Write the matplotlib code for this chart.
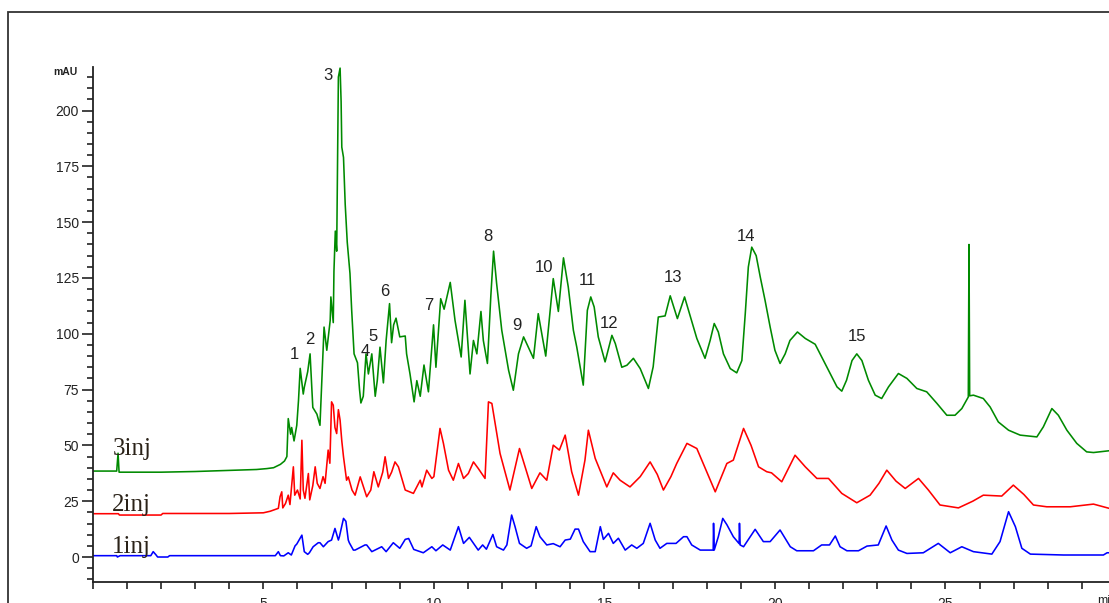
#!/usr/bin/env python
# -*- coding: utf-8 -*-

"""
Superposition de trois chromatogrammes HPLC (1, 2 et 3 injections).

Les traces sont décalées verticalement et les pics principaux sont numérotés.
"""

import matplotlib.pyplot as plt
from matplotlib.patches import Rectangle
from matplotlib.ticker import MultipleLocator

# Trace 3inj (verte) : temps en min, signal en mAU
temps_3inj = [0.0, 0.70, 0.74, 0.77, 2.0, 3.0, 4.0, 4.8, 5.1, 5.3, 5.5, 5.62, 5.69, 5.73,
              5.8, 5.83, 5.9, 5.98, 6.03, 6.08, 6.17, 6.2, 6.3, 6.37, 6.45, 6.57, 6.66,
              6.74, 6.78, 6.86, 6.96, 6.98, 7.05, 7.07, 7.11, 7.15, 7.2, 7.25, 7.28, 7.3,
              7.35, 7.4, 7.46, 7.54, 7.59, 7.66, 7.76, 7.82, 7.86, 7.93, 8.01, 8.08, 8.18,
              8.28, 8.34, 8.42, 8.52, 8.6, 8.7, 8.76, 8.82, 8.89, 9.0, 9.16, 9.2, 9.3,
              9.42, 9.5, 9.6, 9.71, 9.84, 9.99, 10.06, 10.2, 10.3, 10.48, 10.62, 10.8,
              10.91, 11.06, 11.16, 11.26, 11.38, 11.45, 11.57, 11.67, 11.75, 11.84,
              11.99, 12.19, 12.33, 12.48, 12.63, 12.92, 13.06, 13.28, 13.5, 13.65, 13.8,
              13.94, 14.09, 14.19, 14.38, 14.45, 14.5, 14.6, 14.7, 14.82, 15.02, 15.12,
              15.22, 15.32, 15.51, 15.66, 15.85, 16.05, 16.29, 16.43, 16.58, 16.78,
              16.93, 17.14, 17.35, 17.51, 17.71, 17.95, 18.1, 18.22, 18.34, 18.49, 18.69,
              18.88, 19.03, 19.13, 19.22, 19.32, 19.45, 19.57, 19.71, 19.86, 20.0, 20.15,
              20.3, 20.44, 20.66, 20.89, 21.18, 21.37, 21.62, 21.82, 21.96, 22.1, 22.26,
              22.4, 22.55, 22.74, 22.94, 23.13, 23.33, 23.62, 23.87, 24.16, 24.45, 24.75,
              25.04, 25.28, 25.48, 25.67, 25.69, 25.71, 25.82, 26.11, 26.31, 26.55, 26.85,
              27.19, 27.68, 27.87, 28.12, 28.31, 28.56, 28.85, 29.14, 29.34, 29.8]
mau_3inj = [38.5, 38.5, 46.5, 38.0, 38.0, 38.3, 38.8, 39.2, 39.6, 40.0, 41.5, 43.0, 45.0, 62.0,
            55.0, 58.0, 52.0, 59.0, 70.0, 84.5, 73.0, 76.0, 83.0, 91.0, 67.0, 64.0, 59.0,
            88.0, 103.0, 92.6, 106.0, 116.5, 105.0, 128.0, 146.0, 137.0, 215.0, 219.0, 204.0,
            183.6, 179.0, 158.0, 141.0, 127.0, 110.5, 91.0, 87.0, 75.0, 69.0, 72.0, 91.0,
            82.0, 91.0, 72.0, 79.0, 94.0, 78.0, 97.0, 113.5, 96.0, 104.0, 107.0, 98.6, 99.0,
            91.0, 82.0, 69.5, 79.0, 72.0, 86.0, 74.0, 104.0, 85.0, 115.7, 111.0, 123.0,
            106.0, 89.6, 115.0, 82.0, 97.0, 91.0, 110.0, 97.0, 86.7, 117.0, 137.0, 122.5,
            101.6, 83.7, 74.7, 91.0, 98.6, 89.0, 109.0, 90.0, 124.7, 110.0, 134.0, 121.0,
            101.6, 94.0, 77.0, 97.0, 110.5, 116.5, 112.0, 98.6, 87.4, 93.4, 99.3, 95.6, 85.0,
            85.9, 89.0, 84.4, 75.5, 85.2, 107.5, 108.0, 117.0, 106.8, 116.5, 108.3, 97.9,
            89.0, 97.0, 104.6, 100.8, 91.0, 84.4, 82.5, 88.0, 109.0, 129.9, 138.8, 135.0,
            125.4, 115.0, 103.0, 92.6, 86.7, 91.0, 97.0, 100.8, 97.9, 95.3, 89.6, 82.2, 76.2,
            74.3, 79.2, 88.0, 91.0, 88.0, 79.2, 72.5, 71.0, 76.2, 82.2, 80.0, 75.5, 74.0,
            68.8, 63.5, 63.5, 66.5, 71.7, 140.0, 72.2, 72.5, 71.0, 67.2, 60.5, 56.8, 54.6,
            53.8, 58.3, 66.5, 63.5, 56.8, 50.9, 47.1, 46.8, 47.6]

# Trace 2inj (rouge)
temps_2inj = [0.0, 0.75, 0.78, 2.0, 2.05, 4.0, 5.0, 5.2, 5.44, 5.49, 5.54, 5.57, 5.65, 5.73,
              5.78, 5.88, 5.92, 6.0, 6.08, 6.13, 6.17, 6.22, 6.28, 6.32, 6.36, 6.45, 6.52,
              6.58, 6.66, 6.75, 6.81, 6.9, 6.95, 7.0, 7.05, 7.1, 7.15, 7.2, 7.25, 7.3, 7.35,
              7.44, 7.49, 7.6, 7.69, 7.84, 8.03, 8.15, 8.24, 8.37, 8.5, 8.57, 8.67, 8.76,
              8.86, 8.96, 9.16, 9.4, 9.6, 9.65, 9.79, 9.94, 10.0, 10.18, 10.28, 10.43,
              10.57, 10.72, 10.87, 11.01, 11.16, 11.3, 11.5, 11.6, 11.7, 11.94, 12.23,
              12.51, 12.87, 13.11, 13.31, 13.5, 13.68, 13.85, 14.04, 14.24, 14.43, 14.53,
              14.73, 15.07, 15.26, 15.46, 15.75, 16.05, 16.34, 16.55, 16.73, 16.95, 17.12,
              17.42, 17.71, 17.95, 18.25, 18.59, 18.78, 19.08, 19.3, 19.52, 19.76, 19.9,
              20.2, 20.59, 20.89, 21.23, 21.57, 21.96, 22.4, 22.79, 23.05, 23.28, 23.55,
              23.82, 24.21, 24.5, 24.84, 25.38, 25.8, 26.11, 26.65, 26.99, 27.3, 27.58,
              27.97, 28.66, 29.34, 29.8]
mau_2inj = [19.4, 19.4, 18.8, 18.8, 19.5, 19.5, 19.8, 20.5, 21.8, 27.0, 29.2, 22.0, 24.0, 27.7,
            23.5, 40.4, 27.7, 30.0, 26.0, 52.3, 30.0, 26.3, 33.0, 37.4, 25.6, 32.0, 40.4,
            33.0, 30.7, 36.0, 33.0, 47.9, 42.0, 69.5, 68.0, 58.0, 55.3, 66.0, 61.3, 52.0,
            44.9, 34.4, 35.9, 30.0, 27.7, 35.9, 27.0, 30.0, 38.2, 31.4, 38.0, 44.9, 35.2,
            38.0, 42.6, 40.4, 30.0, 28.5, 34.4, 31.4, 38.9, 35.2, 36.0, 57.6, 50.9, 38.9,
            34.4, 41.9, 35.2, 37.4, 42.6, 39.7, 35.2, 69.5, 68.8, 46.4, 30.0, 48.6, 30.7,
            37.7, 34.4, 50.1, 47.9, 54.6, 38.2, 27.7, 43.4, 56.8, 44.2, 31.4, 37.7, 34.4,
            31.4, 36.0, 42.6, 37.0, 30.0, 36.0, 41.9, 50.9, 48.6, 40.0, 29.2, 41.9, 43.4,
            57.6, 50.0, 40.4, 38.2, 37.7, 33.7, 45.6, 40.4, 35.2, 35.2, 28.5, 24.3, 27.7,
            33.0, 38.9, 34.0, 30.7, 35.2, 30.0, 23.3, 22.0, 25.0, 27.7, 27.3, 32.2, 28.0,
            23.3, 22.5, 22.5, 23.7, 21.8]

# Trace 1inj (bleue)
temps_1inj = [0.0, 0.7, 0.72, 0.8, 1.7, 1.77, 1.85, 1.9, 2.2, 2.25, 5.35, 5.44, 5.5, 5.6,
              5.73, 5.82, 5.93, 5.98, 6.13, 6.2, 6.3, 6.35, 6.46, 6.61, 6.66, 6.76, 6.9,
              7.0, 7.1, 7.2, 7.23, 7.35, 7.42, 7.49, 7.52, 7.64, 7.69, 7.98, 8.03, 8.18,
              8.47, 8.6, 8.81, 9.0, 9.16, 9.26, 9.41, 9.69, 9.94, 10.06, 10.26, 10.48,
              10.72, 10.87, 11.04, 11.3, 11.43, 11.54, 11.73, 11.84, 12.04, 12.14, 12.28,
              12.38, 12.51, 12.72, 12.85, 13.0, 13.11, 13.31, 13.5, 13.7, 13.85, 14.0,
              14.14, 14.24, 14.38, 14.58, 14.73, 14.88, 14.97, 15.12, 15.26, 15.41, 15.61,
              15.8, 15.95, 16.14, 16.34, 16.49, 16.63, 16.83, 17.1, 17.32, 17.42, 17.56,
              17.81, 18.1, 18.19, 18.2, 18.22, 18.34, 18.47, 18.59, 18.78, 18.95, 18.96,
              18.98, 19.08, 19.42, 19.66, 19.86, 20.15, 20.45, 20.64, 21.13, 21.37, 21.6,
              21.77, 21.91, 22.11, 22.45, 22.7, 23.03, 23.26, 23.43, 23.62, 23.87, 24.35,
              24.79, 25.14, 25.48, 25.82, 26.36, 26.6, 26.85, 27.05, 27.24, 27.49, 28.46,
              29.63, 29.74, 29.8]
mau_1inj = [0.6, 0.6, 0.0, 0.6, 0.6, 2.4, 1.0, 0.0, 0.0, 0.6, 0.6, 2.4, 0.6, 0.5,
            1.9, 0.9, 5.0, 5.8, 9.8, 2.4, 1.2, 1.9, 4.6, 6.4, 6.4, 4.6, 6.9,
            7.6, 12.8, 7.6, 9.1, 17.3, 16.0, 7.6, 6.4, 3.1, 3.1, 5.4, 5.4, 2.4,
            4.6, 2.4, 6.4, 3.9, 7.9, 8.3, 3.4, 1.9, 4.6, 2.8, 5.4, 3.1,
            13.6, 6.1, 8.8, 3.1, 5.4, 3.5, 10.1, 4.6, 3.1, 5.4, 18.8,
            13.6, 6.1, 3.9, 5.0, 13.6, 9.1, 5.4, 6.0, 4.6, 7.6, 8.0,
            12.5, 12.5, 6.9, 2.4, 2.4, 13.6, 7.9, 10.6, 6.1, 8.4, 3.1,
            5.4, 3.9, 6.1, 15.1, 7.6, 3.9, 6.1, 6.1, 9.1, 9.1, 5.4,
            3.1, 3.1, 3.1, 15.1, 3.1, 9.1, 17.3, 14.5, 9.1, 6.0, 15.1,
            5.4, 4.6, 12.4, 6.9, 6.9, 12.1, 4.6, 2.8, 2.8, 5.4, 5.4,
            9.4, 4.6, 2.8, 2.8, 4.9, 5.4, 13.9, 7.6, 3.1, 1.6, 1.9,
            6.1, 1.9, 4.6, 2.4, 1.3, 6.9, 20.3, 13.6, 3.9, 1.3, 0.9,
            0.9, 1.9, 1.9]

# Numérotation des pics (position du numéro : temps, mAU)
pics_numeros = ['1', '2', '3', '4', '5', '6', '7', '8', '9', '10', '11', '12', '13', '14', '15']
pics_temps = [5.9, 6.37, 6.9, 8.0, 8.22, 8.57, 9.86, 11.59, 12.44, 13.24, 14.5, 15.14, 17.01, 19.16, 22.41]
pics_mau = [90.6, 97.5, 215.7, 92.0, 99.0, 119.0, 112.8, 143.6, 103.8, 129.8, 124.0, 104.7, 125.3, 143.6, 98.9]

# Étiquettes des injections
injections = ['3inj', '2inj', '1inj']
injections_mau = [48.3, 23.3, 4.5]

# Graduations de l'axe des temps
graduations_temps = [5, 10, 15, 20, 25]


def tracer_chromatogrammes():
    """Trace les trois chromatogrammes superposés et sauvegarde out.png."""
    plt.rcParams['font.family'] = ['Liberation Sans', 'DejaVu Sans']

    fig = plt.figure(figsize=(11.09, 6.03), dpi=100)
    ax = fig.add_axes([0.0837, 0.0348, 0.9226, 0.8541])

    # Cadre extérieur (coupé à droite et en bas)
    cadre = Rectangle((8 / 1109, -0.2), 1.2, 1.2 - 12 / 603, transform=fig.transFigure,
                      fill=False, edgecolor='#333333', linewidth=1.3, clip_on=False)
    fig.add_artist(cadre)

    ax.plot(temps_3inj, mau_3inj, color='#008a00', linewidth=1.15)
    ax.plot(temps_2inj, mau_2inj, color='#ff0000', linewidth=1.15)
    ax.plot(temps_1inj, mau_1inj, color='#0000ff', linewidth=1.15)

    for num, t, v in zip(pics_numeros, pics_temps, pics_mau):
        ax.text(t, v, num, ha='center', va='center', fontsize=12, color='#222222')

    for nom, v in zip(injections, injections_mau):
        ax.text(0.57, v, nom, ha='left', va='center', fontsize=18, color='#2a2218',
                family=['Liberation Serif', 'DejaVu Serif'])

    ax.set_xlim(0, 30)
    ax.set_ylim(-11.2, 219.5)

    # Axes façon logiciel de chromatographie
    for cote in ['top', 'right']:
        ax.spines[cote].set_visible(False)
    for cote in ['left', 'bottom']:
        ax.spines[cote].set_linewidth(1.3)
        ax.spines[cote].set_color('#222222')

    ax.xaxis.set_minor_locator(MultipleLocator(1))
    ax.yaxis.set_minor_locator(MultipleLocator(5))
    ax.set_yticks([0, 25, 50, 75, 100, 125, 150, 175, 200])
    ax.set_xticks(graduations_temps)

    ax.tick_params(axis='y', which='major', length=8, width=1.2, direction='out',
                   labelsize=10, pad=2, colors='#222222')
    ax.tick_params(axis='y', which='minor', length=4, width=1.2, direction='out', colors='#222222')
    ax.tick_params(axis='x', which='both', length=5, width=1.2, direction='out',
                   labelsize=10, pad=6, colors='#222222')

    fig.text(77 / 1109, 1 - 72 / 603, 'mAU', ha='right', va='center', fontsize=7.5,
             fontweight='bold', color='#222222')
    fig.text(1097 / 1109, 1 - 601 / 603, 'min', ha='left', va='center', fontsize=9,
             color='#222222')

    fig.savefig('out.png', dpi=100)
    plt.close(fig)


if __name__ == "__main__":
    tracer_chromatogrammes()
